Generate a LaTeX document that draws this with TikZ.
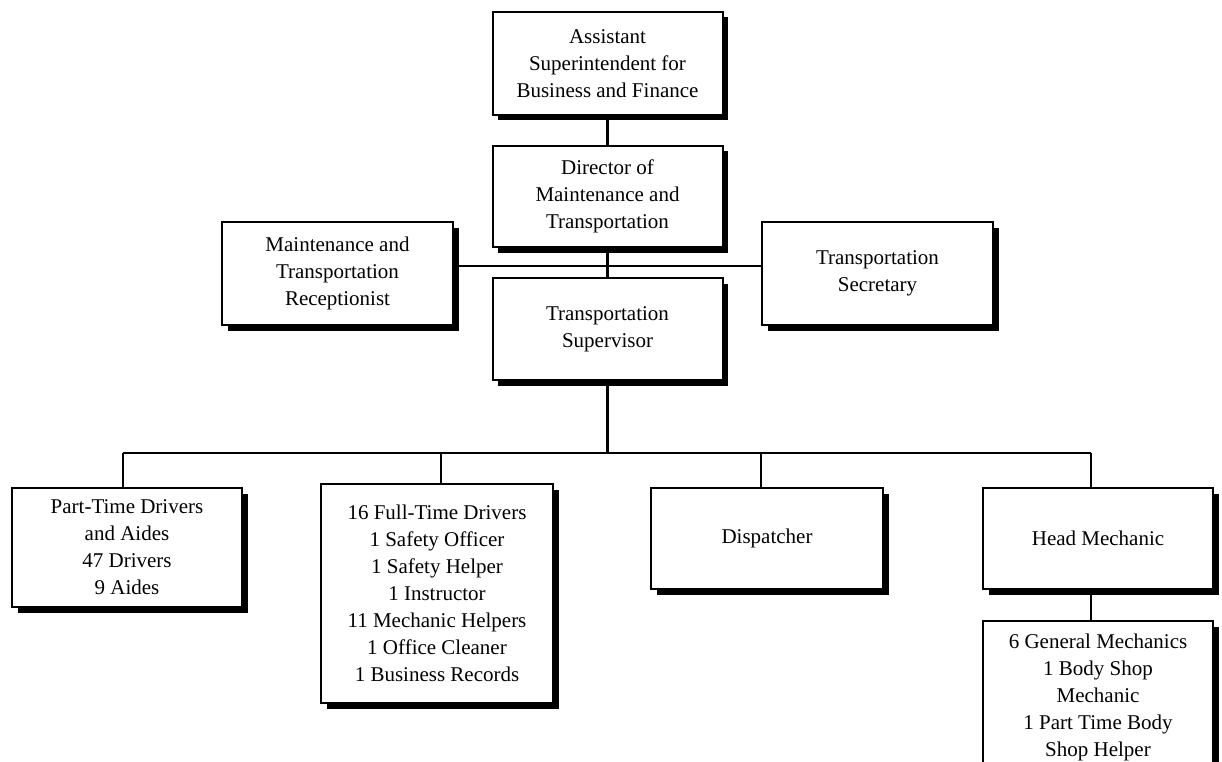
\documentclass[tikz,border=0pt]{standalone}
\usepackage{fontspec}
\setmainfont{Liberation Serif}
\usetikzlibrary{shadows,backgrounds}
\begin{document}
\begin{tikzpicture}[x=1pt,y=-1pt,
  box/.style={draw=black,line width=2pt,fill=white,align=center,
    inner sep=0pt,minimum width=230pt,
    font=\fontsize{21}{27}\selectfont,
    drop shadow={shadow xshift=5.5pt,shadow yshift=-5.5pt,fill=black,opacity=1}},
  link/.style={line width=2.2pt,draw=black}]
\useasboundingbox (0,0) rectangle (1222,762);
\clip (0,0) rectangle (1222,762);

% management chain
\node[box,minimum height=103pt] (asst) at (607.5,63.5)
  {Assistant\\Superintendent for\\Business and Finance};
\node[box,minimum height=101pt] (dir) at (607.5,196.5)
  {Director of\\Maintenance and\\Transportation};
\node[box,minimum height=103pt,minimum width=231pt] (rec) at (337.5,273.5)
  {Maintenance and\\Transportation\\Receptionist};
\node[box,minimum height=103pt,minimum width=231pt] (sec) at (877.5,273.5)
  {Transportation\\Secretary};
\node[box,minimum height=102pt] (sup) at (607.5,329)
  {Transportation\\Supervisor};

% staff groups
\node[box,minimum height=119pt] (pt) at (127,547.5)
  {Part-Time Drivers\\and Aides\\47 Drivers\\9 Aides};
\node[box,minimum height=219pt,minimum width=232pt] (ft) at (437,593.5)
  {16 Full-Time Drivers\\1 Safety Officer\\1 Safety Helper\\1 Instructor\\11 Mechanic Helpers\\1 Office Cleaner\\1 Business Records};
\node[box,minimum height=101pt,minimum width=232pt] (disp) at (767,538.5)
  {Dispatcher};
\node[box,minimum height=101pt] (hm) at (1098,538.5)
  {Head Mechanic};
\node[box,minimum height=152pt] (gm) at (1098,697)
  {6 General Mechanics\\1 Body Shop\\Mechanic\\1 Part Time Body\\Shop Helper};

% junction points
\coordinate (mid) at (607.5,266);
\coordinate (bar) at (607.5,453);
\coordinate (d1) at (123,453);
\coordinate (d2) at (441,453);
\coordinate (d3) at (761,453);
\coordinate (d4) at (1091,453);

% connectors, kept behind the boxes
\begin{pgfonlayer}{background}
\draw[link] (asst.south) -- (dir.north);
\draw[link] (dir.south) -- (sup.north);
\draw[link] (rec.east |- mid) -- (sec.west |- mid);
\draw[link] (sup.south) -- (bar);
\draw[link] (d1) -- (d4);
\draw[link] (d1) -- (d1 |- pt.north);
\draw[link] (d2) -- (d2 |- ft.north);
\draw[link] (d3) -- (d3 |- disp.north);
\draw[link] (d4) -- (d4 |- hm.north);
\draw[link] (d4 |- hm.south) -- (d4 |- gm.north);
\end{pgfonlayer}
\end{tikzpicture}
\end{document}
